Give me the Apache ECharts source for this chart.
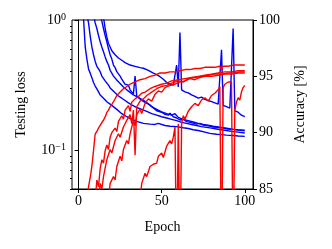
<!DOCTYPE html>
<html><head><meta charset="utf-8">
<script src="https://cdn.jsdelivr.net/npm/echarts@6/dist/echarts.min.js"></script>
<style>html,body{margin:0;padding:0;background:#fff}#c{width:332px;height:249px}</style>
</head><body><div id="c"></div>
<script>
// Tick values
const xTicks = [0, 50, 100];
const lossMajorTicks = [0.1, 1];
const lossMinorTicks = [0.05,0.06,0.07,0.08,0.09,0.2,0.3,0.4,0.5,0.6,0.7,0.8,0.9];
const accTicks = [85, 90, 95, 100];

// Testing loss curves, [epoch, loss]
const lossA = [[2,1.6],[3,1.02],[4,0.62],[5,0.5],[6,0.42],[7,0.39],[8,0.36],[9,0.33],[10,0.31],[11,0.295],[13,0.265],[15,0.25],[17,0.235],[20,0.22],[23,0.205],[26,0.19],[29,0.18],[32,0.172],[35,0.166],[39,0.16],[43,0.158],[46,0.157],[48,0.16],[49,0.156],[52,0.154],[55,0.152],[59,0.151],[63,0.148],[66,0.146],[69,0.143],[72,0.141],[76,0.137],[79,0.134],[83,0.132],[86,0.131],[89,0.13],[93,0.129],[96,0.128],[100,0.127]];
const lossB = [[5,1.1],[6,0.95],[7,0.75],[8,0.62],[9,0.54],[10,0.48],[11,0.44],[12,0.42],[13,0.4],[14,0.37],[15,0.38],[16,0.34],[17,0.33],[18,0.315],[19,0.3],[20,0.29],[22,0.275],[24,0.26],[26,0.25],[28,0.24],[30,0.23],[32,0.222],[35,0.212],[38,0.205],[41,0.198],[44,0.19],[47,0.185],[50,0.18],[53,0.176],[56,0.172],[59,0.168],[62,0.163],[65,0.16],[68,0.157],[71,0.154],[74,0.151],[77,0.149],[80,0.147],[83,0.145],[86,0.143],[89,0.141],[92,0.139],[96,0.137],[100,0.135]];
const lossC = [[9,1.1],[10,0.95],[11,0.86],[12,0.76],[13,0.68],[14,0.62],[15,0.57],[16,0.52],[17,0.48],[18,0.45],[19,0.41],[20,0.39],[21,0.37],[23,0.345],[25,0.325],[27,0.305],[29,0.29],[31,0.277],[33,0.265],[35,0.257],[38,0.245],[41,0.232],[44,0.215],[47,0.205],[50,0.196],[53,0.19],[56,0.185],[58,0.19],[60,0.178],[63,0.172],[66,0.168],[69,0.164],[72,0.16],[75,0.157],[78,0.155],[81,0.152],[84,0.15],[87,0.148],[90,0.146],[93,0.144],[96,0.143],[100,0.142]];
const lossD = [[13,1.1],[14,0.98],[15,0.86],[16,0.76],[17,0.68],[18,0.6],[19,0.54],[20,0.5],[21,0.45],[22,0.43],[23,0.4],[24,0.41],[25,0.37],[26,0.35],[27,0.355],[28,0.32],[29,0.31],[30,0.315],[31,0.29],[32,0.28],[33,0.27],[34,0.37],[35,0.26],[36,0.255],[38,0.24],[40,0.232],[41,0.238],[43,0.222],[45,0.21],[47,0.2],[48,0.205],[50,0.195],[52,0.188],[54,0.185],[55,0.192],[57,0.18],[59,0.176],[61,0.17],[63,0.172],[65,0.165],[68,0.162],[71,0.158],[73,0.16],[75,0.155],[78,0.153],[81,0.15],[84,0.149],[87,0.147],[90,0.145],[93,0.144],[96,0.142],[100,0.14]];
const lossE = [[15,1.05],[16,0.86],[17,0.74],[18,0.66],[19,0.62],[20,0.58],[22,0.54],[24,0.51],[26,0.49],[28,0.47],[31,0.45],[34,0.44],[37,0.43],[39,0.425],[42,0.41],[45,0.39],[47,0.38],[49,0.366],[51,0.35],[53,0.33],[55,0.32],[57,0.315],[58,0.31],[59,0.45],[60,0.305],[61,0.8],[62,0.29],[64,0.28],[66,0.275],[68,0.265],[70,0.258],[72,0.25],[74,0.255],[76,0.245],[78,0.24],[80,0.235],[82,0.23],[84,0.225],[85,0.225],[86,0.59],[87,0.22],[89,0.215],[91,0.21],[92,0.205],[93,0.86],[94,0.2],[95,0.2],[96,0.195],[98,0.185],[100,0.18]];

// Accuracy curves, [epoch, accuracy %]
const accA = [[5,84],[6,85.2],[7,86.0],[8,87.0],[9,88.4],[10,89.9],[11,90.1],[12,90.4],[13,90.5],[14,90.9],[15,91.1],[16,91.4],[17,91.8],[18,92.0],[19,92.3],[20,92.5],[21,92.6],[22,93.0],[23,93.3],[25,93.6],[27,93.9],[29,94.1],[31,94.3],[34,94.5],[37,94.7],[40,94.8],[43,95.0],[46,95.1],[49,95.3],[52,95.3],[55,95.4],[58,95.4],[61,95.5],[64,95.6],[67,95.6],[70,95.7],[73,95.7],[76,95.8],[79,95.8],[82,95.8],[85,95.9],[86,95.6],[87,95.9],[90,95.9],[93,96.0],[96,96.0],[100,96.0]];
const accB = [[10,84],[11,85.8],[12,85.2],[13,86.8],[14,87.6],[15,87.3],[16,88.4],[17,88.9],[18,88.5],[19,89.6],[20,90.0],[22,90.4],[23,90.1],[24,91.0],[26,91.5],[27,91.2],[28,92.0],[30,92.4],[31,91.9],[32,92.7],[34,93.0],[36,93.2],[38,93.5],[40,93.6],[43,93.9],[46,94.1],[50,94.3],[53,94.4],[56,94.6],[60,94.7],[64,94.8],[68,94.9],[72,95.0],[76,95.1],[80,95.2],[84,95.3],[88,95.4],[92,95.4],[96,95.5],[100,95.5]];
const accC = [[18,84],[19,85.5],[21,86.1],[22,85.8],[23,87.0],[25,87.9],[26,87.5],[27,88.5],[29,89.3],[30,89.0],[31,89.9],[33,91.1],[34,90.6],[35,91.6],[37,92.1],[38,91.7],[40,92.6],[42,93.0],[44,92.8],[46,93.4],[48,93.7],[50,93.6],[52,94.0],[55,94.2],[58,94.3],[61,94.5],[64,94.6],[67,94.8],[70,94.7],[73,94.9],[76,95.0],[80,95.0],[84,95.1],[88,95.2],[92,95.2],[96,95.3],[100,95.3]];
const accD = [[12,84],[13,85.5],[14,85.0],[15,86.1],[17,87.6],[19,88.5],[20,88.2],[22,89.3],[24,89.9],[25,89.6],[27,90.5],[29,91.1],[31,91.6],[32,90.8],[33,92.0],[34,88.0],[35,92.3],[37,92.8],[39,93.0],[41,93.3],[44,93.6],[47,93.9],[50,94.1],[53,94.2],[56,94.4],[60,94.6],[63,94.5],[66,94.8],[70,94.9],[74,95.0],[78,95.1],[82,95.2],[86,95.2],[90,95.3],[94,95.3],[97,95.4],[100,95.4]];
const accE = [[37,84],[38,85.5],[40,86.4],[41,86.1],[43,87.0],[45,87.2],[47,87.3],[48,87.9],[50,88.2],[51,87.8],[53,88.8],[55,89.3],[56,89.0],[57,89.6],[58,90.5],[59,78],[60,90.8],[61,78],[62,90.8],[63,91.5],[64,91.2],[66,91.9],[68,92.3],[70,92.6],[72,92.4],[74,92.9],[76,93.1],[78,92.8],[80,93.3],[82,93.5],[84,93.8],[85,94.1],[86,78],[87,94.0],[88,94.3],[90,94.5],[92,94.5],[93,78],[94,92.0],[95,92.7],[96,93.1],[97,92.9],[98,93.6],[99,94.0],[100,94.2]];

const lossSeries = [lossA, lossB, lossC, lossD, lossE];
const accSeries = [accA, accB, accC, accD, accE];

const FONT = 'Liberation Serif';
const chart = echarts.init(document.getElementById('c'), null, {renderer: 'canvas'});
const series = [];
lossSeries.forEach(d => series.push({type:'line', data:d, xAxisIndex:0, yAxisIndex:0, showSymbol:false, symbol:'none', clip:true, lineStyle:{color:'#0000ff', width:1.4}, animation:false, z:2}));
accSeries.forEach(d => series.push({type:'line', data:d, xAxisIndex:0, yAxisIndex:2, showSymbol:false, symbol:'none', clip:true, lineStyle:{color:'#ff0000', width:1.4}, animation:false, z:3}));

chart.setOption({
  animation: false,
  grid: {left:72, top:20, width:181, height:169, show:true, borderColor:'#000', borderWidth:1, backgroundColor:'transparent'},
  xAxis: [{
    type:'value', min:-3.95, max:104.95,
    axisLine:{show:true, lineStyle:{color:'#000', width:1}},
    axisTick:{show:true, customValues:xTicks, length:4, lineStyle:{color:'#000'}},
    axisLabel:{customValues:xTicks, color:'#000', fontFamily:FONT, fontSize:14, margin:5},
    splitLine:{show:false},
    name:'Epoch', nameLocation:'middle', nameGap:31,
    nameTextStyle:{color:'#000', fontFamily:FONT, fontSize:14}
  }],
  yAxis: [{
    type:'log', logBase:10, min:0.05, max:1, position:'left',
    axisLine:{show:true, lineStyle:{color:'#000', width:1}},
    axisTick:{show:true, customValues:lossMajorTicks, length:4, lineStyle:{color:'#000'}},
    axisLabel:{customValues:lossMajorTicks, color:'#000', fontFamily:FONT, fontSize:14, margin:6,
      formatter: v => v >= 1 ? '{b|10}{s|0}' : '{b|10}{s|\u22121}',
      rich:{b:{fontFamily:FONT, fontSize:14, color:'#000'}, s:{fontFamily:FONT, fontSize:10, color:'#000', verticalAlign:'top', padding:[0,0,6,0]}}},
    splitLine:{show:false}, minorTick:{show:false}, minorSplitLine:{show:false},
    name:'Testing loss', nameLocation:'middle', nameGap:44, nameRotate:90,
    nameTextStyle:{color:'#000', fontFamily:FONT, fontSize:14}
  },{
    type:'log', logBase:10, min:0.05, max:1, position:'left',
    axisLine:{show:false},
    axisTick:{show:true, customValues:lossMinorTicks, length:2, lineStyle:{color:'#000'}},
    axisLabel:{show:false}, splitLine:{show:false}
  },{
    type:'value', min:85, max:100, position:'right',
    axisLine:{show:true, lineStyle:{color:'#000', width:1}},
    axisTick:{show:true, customValues:accTicks, length:4, lineStyle:{color:'#000'}},
    axisLabel:{customValues:accTicks, color:'#000', fontFamily:FONT, fontSize:14, margin:6},
    splitLine:{show:false},
    name:'Accuracy [%]', nameLocation:'middle', nameGap:40, nameRotate:90,
    nameTextStyle:{color:'#000', fontFamily:FONT, fontSize:14}
  }],
  series: series
});
</script></body></html>
